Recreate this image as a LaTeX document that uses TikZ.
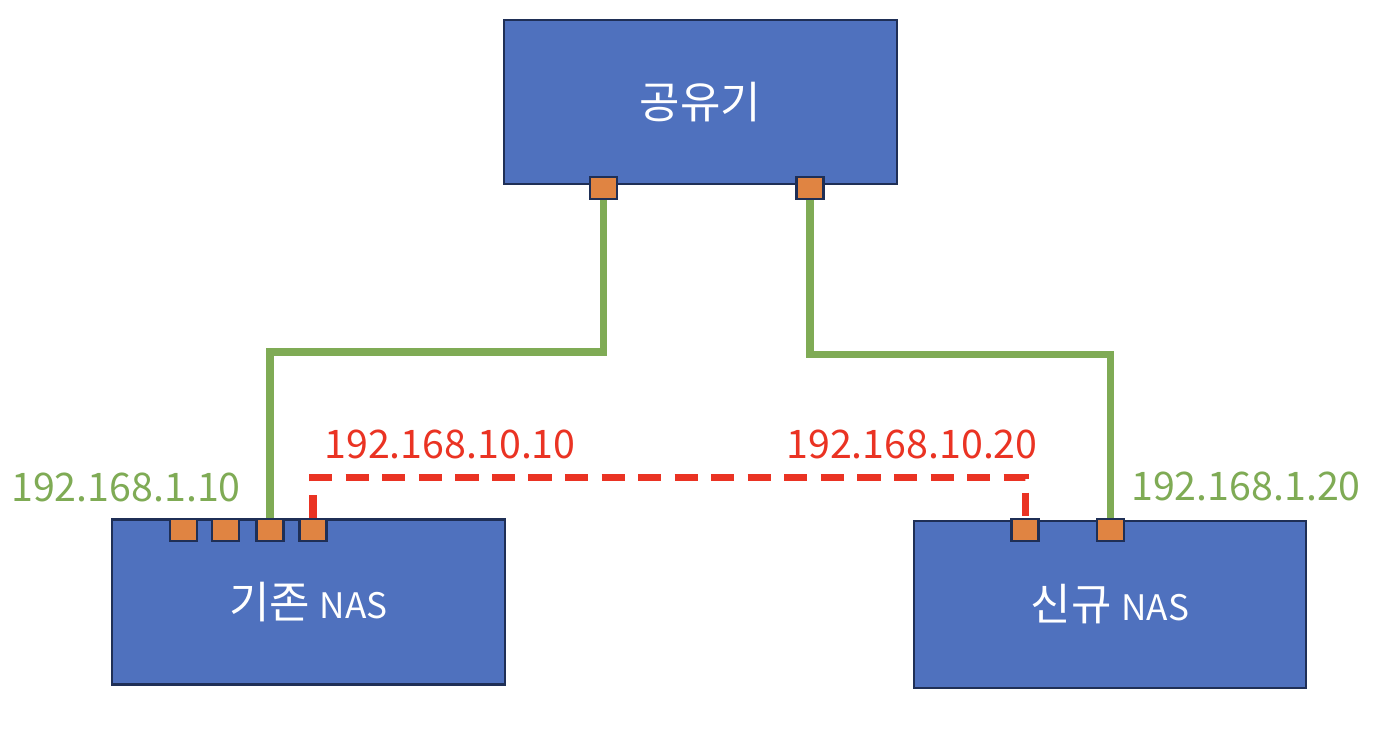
\documentclass[tikz,border=0pt]{standalone}
\usepackage{fontspec}
\setmainfont{Noto Sans CJK KR}
\usepackage{xcolor}
\usepackage{tikz}
\usetikzlibrary{calc}
\definecolor{boxfill}{HTML}{4F71BE}
\definecolor{boxedge}{HTML}{1F2F56}
\definecolor{orange}{HTML}{E08442}
\definecolor{green}{HTML}{7FAB55}
\definecolor{red}{HTML}{EA3323}
\newcommand{\latin}[1]{{\fontsize{10pt}{11pt}\selectfont #1}}
\tikzset{
  box/.style={draw=boxedge, fill=boxfill, line width=0.6pt, inner sep=0pt,
    minimum width=3.93cm, minimum height=1.65cm, text=white,
    font=\fontsize{12.5pt}{14pt}\selectfont},
  port/.style={draw=boxedge, fill=orange, line width=0.6pt, inner sep=0pt,
    minimum width=0.27cm, minimum height=0.22cm},
  gline/.style={draw=green, line width=2pt},
  rline/.style={draw=red, line width=2pt, dash pattern=on 6.6pt off 3.8pt},
  glbl/.style={text=green, inner sep=0pt, font=\fontsize{11.2pt}{13pt}\selectfont},
  rlbl/.style={text=red, inner sep=0pt, font=\fontsize{11.2pt}{13pt}\selectfont}
}
\begin{document}
\begin{tikzpicture}
  \useasboundingbox (0,0) rectangle (13.86,7.52);

  % boxes
  \node[box, minimum height=1.64cm] (router) at (7.005,6.50) {공유기};
  \node[box] (oldnas) at (3.085,1.50) {기존 \latin{NAS}};
  \node[box, minimum width=3.92cm, minimum height=1.67cm] (newnas) at (11.10,1.475) {신규 \latin{NAS}};

  % ports
  \node[port] (r1) at (6.035,5.64) {};
  \node[port] (r2) at (8.10,5.64) {};
  \foreach \x [count=\i] in {1.835,2.255,2.70,3.13}
    \node[port] (o\i) at (\x,2.22) {};
  \node[port] (n1) at (10.25,2.22) {};
  \node[port] (n2) at (11.105,2.22) {};

  % cables
  \coordinate (gl) at (0,4.00);
  \coordinate (gr) at (0,3.975);
  \coordinate (rb) at (0,2.745);
  \draw[gline] (r1.south) -- (r1.south |- gl) -| (o3.north);
  \draw[gline] (r2.south) -- (r2.south |- gr) -| (n2.north);
  \draw[rline] (o4.north) -- (o4.north |- rb) -| (n1.north);

  % addresses
  \node[glbl] (ipold) at (1.26,2.645) {192.168.1.10};
  \node[glbl] (ipnew) at (12.46,2.66) {192.168.1.20};
  \node[rlbl] (lnold) at (4.50,3.075) {192.168.10.10};
  \node[rlbl] (lnnew) at (9.12,3.075) {192.168.10.20};
\end{tikzpicture}
\end{document}
